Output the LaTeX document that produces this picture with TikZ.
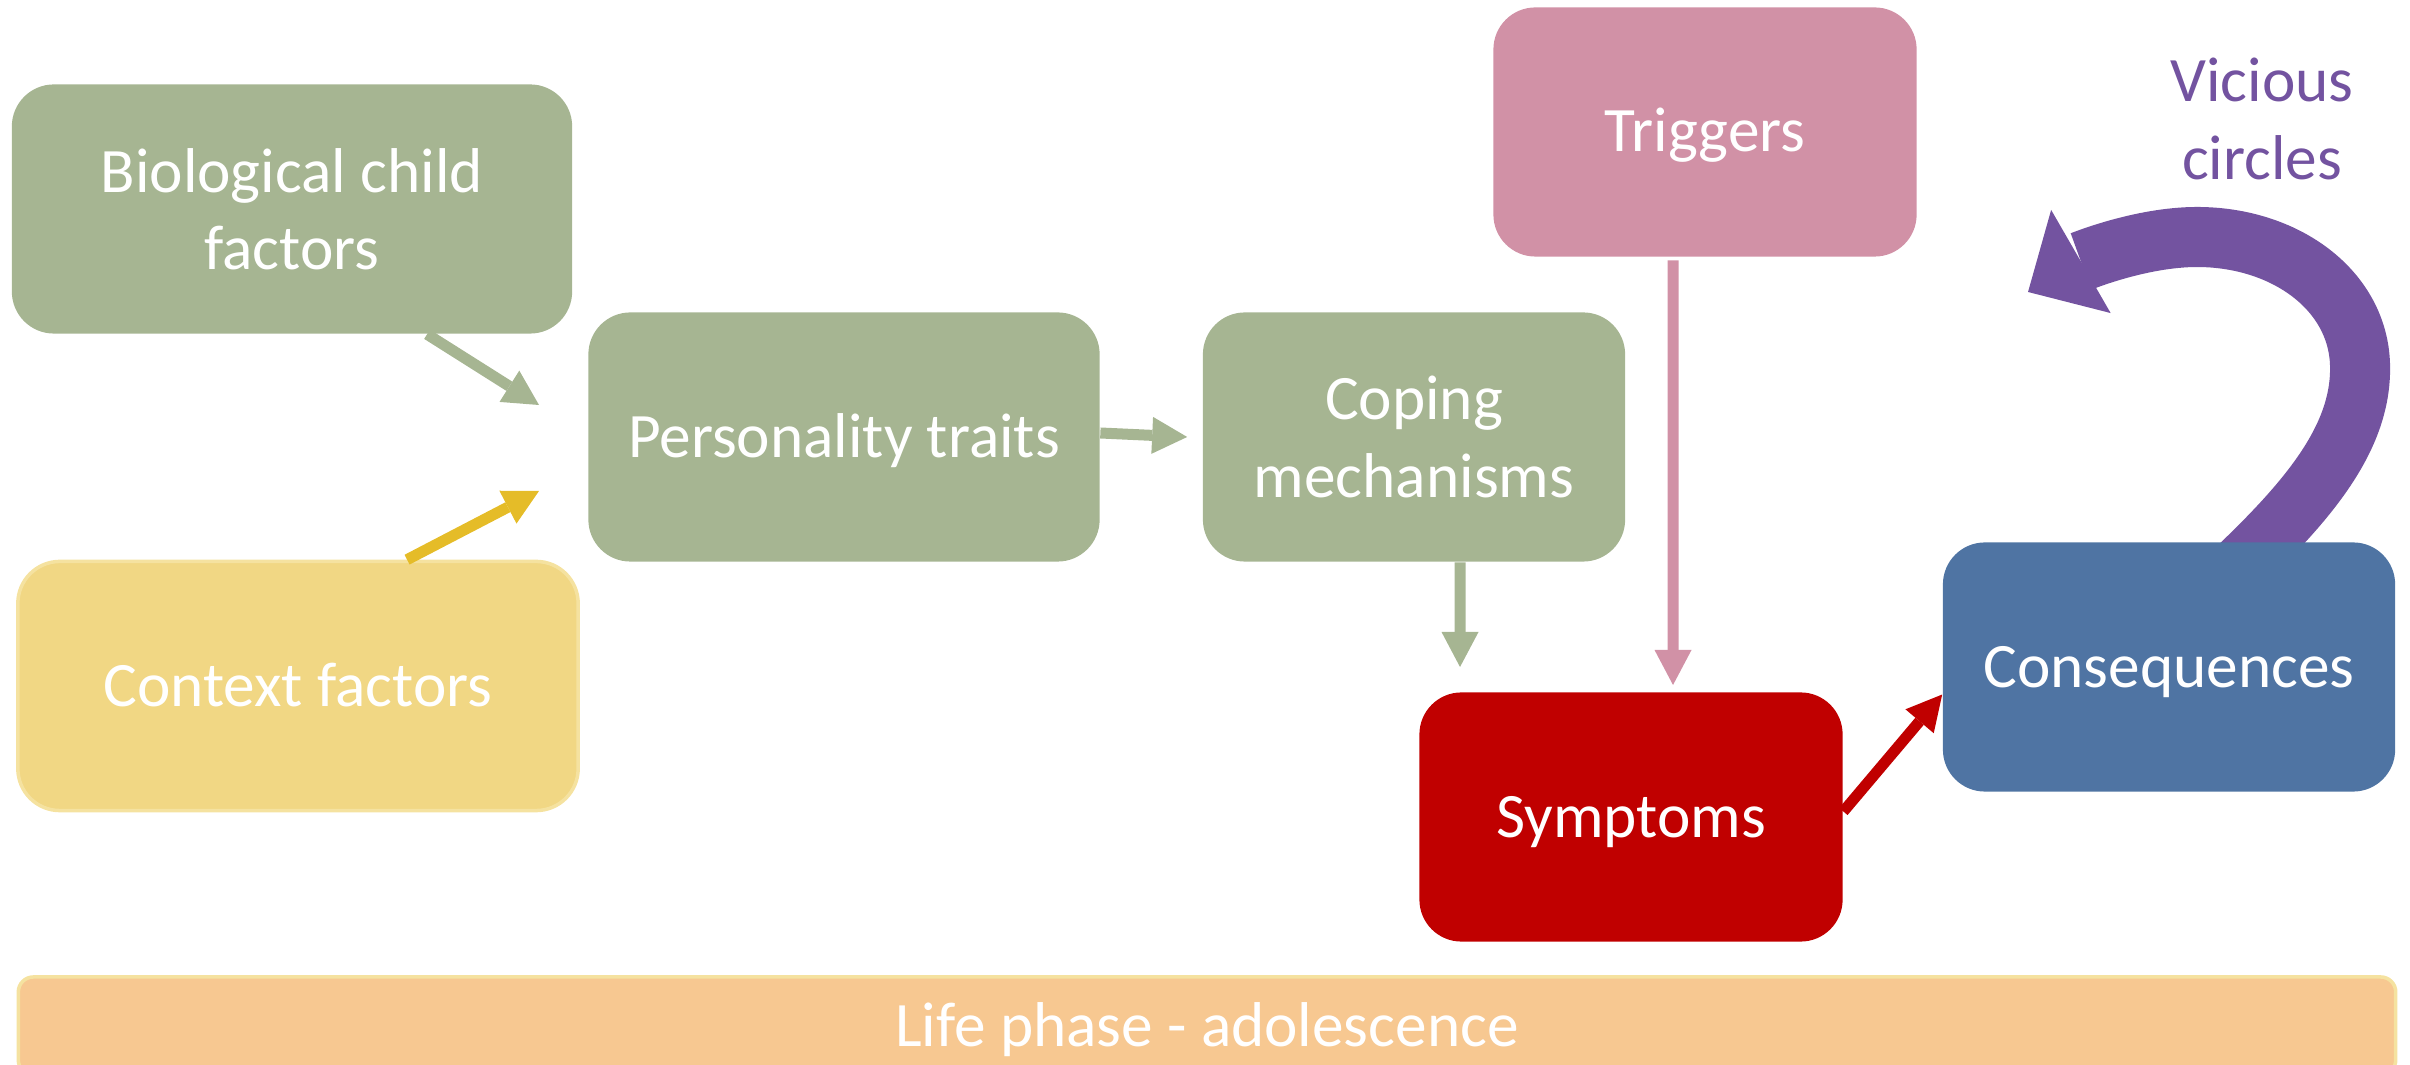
\documentclass[tikz,border=0pt]{standalone}
\usepackage{fontspec}
\setmainfont{Carlito}
\usetikzlibrary{arrows.meta,backgrounds}
\definecolor{sage}{RGB}{166,181,146}
\definecolor{sand}{RGB}{241,215,132}
\definecolor{sandedge}{RGB}{245,226,160}
\definecolor{ochre}{RGB}{229,188,40}
\definecolor{rose}{RGB}{209,145,166}
\definecolor{crimson}{RGB}{192,0,0}
\definecolor{steel}{RGB}{79,116,163}
\definecolor{loopviolet}{RGB}{115,83,160}
\definecolor{peach}{RGB}{247,200,145}

\tikzset{
  stage/.style={rounded corners=0.42cm, text=white, align=center, minimum height=2.49cm, inner sep=2pt, font=\fontsize{18pt}{22pt}\selectfont},
  oneline/.style={text height=0.55cm, text depth=0.15cm},
  link/.style={line width=0.11cm, -{Triangle[length=0.35cm, width=0.37cm, line width=0pt]}},
}

\begin{document}
\begin{tikzpicture}[x=0.01cm, y=-0.01cm]
  \useasboundingbox (0,0) rectangle (2410,1065);
  \node[stage, fill=sage, minimum width=5.6cm] (bio) at (292,209) {Biological child\\factors};
  \node[stage, oneline, fill=sand, draw=sandedge, line width=1pt, minimum width=5.6cm] (context) at (298,686) {Context factors};
  \node[stage, oneline, fill=sage, minimum width=5.11cm] (traits) at (844,437) {Personality traits};
  \node[stage, fill=sage, minimum width=4.22cm] (coping) at (1414,437) {Coping\\mechanisms};
  \node[stage, oneline, fill=rose, minimum width=4.23cm] (triggers) at (1705,132) {Triggers};
  \node[stage, oneline, fill=crimson, minimum width=4.23cm] (symptoms) at (1631,817) {Symptoms};
  \node[stage, oneline, fill=steel, minimum width=4.52cm] (conseq) at (2169,667) {Consequences};
  \node[font=\fontsize{18pt}{22pt}\selectfont, text=loopviolet, align=center] (vicious) at (2262,119) {Vicious\\circles};
  % life phase bar
  \node[oneline, fill=peach, draw=sandedge, line width=1pt, rounded corners=0.15cm, minimum width=23.76cm, minimum height=0.98cm, text=white, font=\fontsize{18pt}{22pt}\selectfont] (phase) at (1207,1026) {Life phase - adolescence};
  \coordinate (bioend) at (539,405);
  \coordinate (ctxend) at (539,491);
  \coordinate (copeend) at (1460,667);
  \coordinate (trigend) at (1673,685);
  \draw[link, sage] ([xshift=1.35cm]bio.south) -- (bioend);
  \draw[link, ochre] ([xshift=1.09cm]context.north) -- (ctxend);
  \draw[link, sage] ([yshift=0.04cm]traits.east) -- ([xshift=-0.15cm]coping.west);
  \draw[link, sage] ([xshift=0.46cm]coping.south) -- (copeend);
  \draw[link, rose] ([xshift=-0.32cm,yshift=-0.03cm]triggers.south) -- (trigend);
  \draw[link, crimson] ([yshift=0.055cm]symptoms.east) -- ([yshift=-0.275cm]conseq.west);
  % loop arrow behind the consequences box
  \begin{scope}[on background layer]
    \draw[loopviolet, line width=0.6cm, -{Triangle[length=0.61cm, width=1.19cm, line width=0pt]}]
      ([xshift=0.55cm, yshift=-0.39cm]conseq.north) .. controls (2305,505) and (2362,440) .. (2360,365)
      .. controls (2358,290) and (2285,237) .. (2197,237)
      .. controls (2140,237) and (2080,262) .. (2028,292);
  \end{scope}
\end{tikzpicture}
\end{document}
